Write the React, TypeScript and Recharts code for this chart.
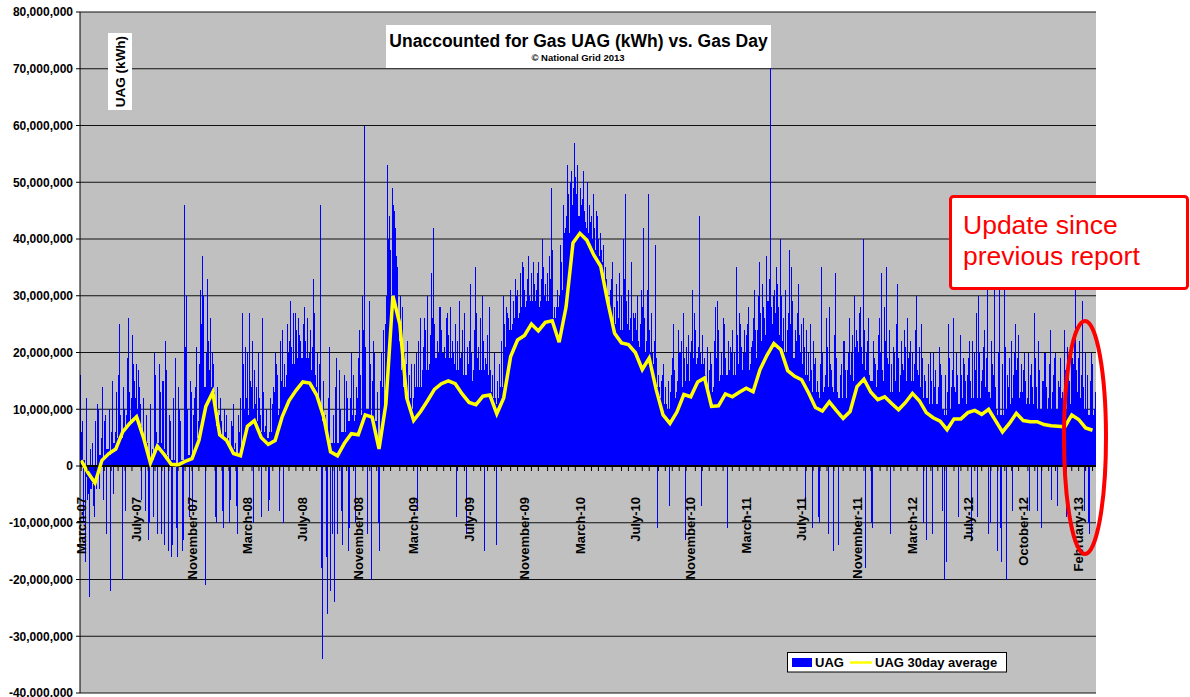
import React from 'react';
import { ComposedChart, Bar, Line, XAxis, YAxis, CartesianGrid, ReferenceLine } from 'recharts';

// ---------- data (millions of kWh), one 5-day bin per value, 24 bins between axis labels ----------
// solid level of the daily UAG columns in each bin
const solid2007 = [
  2, 1, -2, -3, -4, -3, -3, -2, 2, 3, 1, 3, 3, 2, 4, 4, 5, 6, 5, 7, 8, 8, 9, 9,
  10, 9, 7, 5, 3, 2, 1, 1, 3, 4, 5, 4, 3, 2, 1, 1, 1, 0, 0, 1, 1, 2, 2, 2,
  2, 3, 5, 7, 12, 14, 14, 15, 14, 12, 9, 7, 6, 5, 5, 4, 4, 3, 3, 2, 2, 3, 5, 6,
];
const solid2008 = [
  9, 10, 11, 10, 8, 7, 6, 6, 5, 5, 6, 7, 8, 9, 10, 12, 14, 15, 16, 17, 18, 18, 19, 19,
  19, 19, 19, 18, 17, 16, 14, 12, 10, 8, 6, 5, 4, 4, 4, 4, 5, 6, 6, 7, 8, 8, 8, 9,
  8, 9, 10, 11, 10, 10, 9, 8, 5, 4, 6, 9, 14, 22, 30, 33, 31, 27, 22, 17, 14, 12, 11, 10,
];
const solid2009 = [
  12, 13, 14, 14, 15, 16, 17, 18, 18, 19, 19, 19, 20, 20, 19, 19, 19, 18, 18, 17, 17, 16, 16, 16,
  16, 15, 15, 15, 16, 17, 17, 17, 16, 14, 13, 12, 11, 12, 14, 17, 21, 23, 24, 25, 26, 26, 27, 28,
  28, 29, 29, 29, 29, 29, 28, 29, 29, 30, 29, 29, 29, 26, 26, 28, 31, 34, 38, 41, 43, 44, 44, 44,
];
const solid2010 = [
  44, 44, 43, 42, 41, 40, 39, 38, 37, 36, 34, 31, 29, 27, 26, 25, 25, 25, 24, 24, 24, 24, 23, 22,
  23, 22, 21, 20, 20, 21, 21, 20, 18, 16, 14, 12, 11, 11, 10, 10, 11, 12, 13, 13, 14, 15, 15, 15,
  16, 17, 18, 19, 19, 18, 16, 14, 13, 13, 14, 15, 15, 16, 16, 16, 16, 15, 15, 16, 17, 17, 17, 17,
];
const solid2011 = [
  17, 17, 17, 18, 19, 20, 21, 22, 23, 24, 24, 25, 24, 24, 23, 22, 21, 20, 20, 19, 19, 19, 19, 18,
  18, 17, 16, 15, 14, 13, 13, 13, 12, 13, 13, 14, 14, 14, 13, 13, 12, 12, 12, 12, 13, 14, 15, 16,
  17, 17, 18, 18, 17, 16, 15, 15, 14, 15, 15, 15, 15, 14, 14, 13, 13, 13, 13, 13, 14, 15, 15, 15,
];
const solid2012 = [
  15, 15, 14, 14, 13, 12, 12, 11, 11, 11, 11, 10, 10, 10, 9, 9, 10, 11, 11, 11, 11, 11, 11, 11,
  12, 12, 12, 13, 12, 12, 12, 13, 13, 13, 12, 11, 10, 9, 9, 9, 10, 10, 11, 12, 12, 12, 12, 11,
  11, 11, 11, 11, 11, 11, 10, 10, 10, 10, 10, 10, 10, 10, 10, 10, 10, 10, 10, 10, 11, 12, 13, 13,
];
const solid2013 = [12, 11, 10, 10, 9, 9, 9, 9];

// extreme daily UAG values in each bin (the thin spikes, up or down) - first set
const peak2007 = [
  16, 8, -17, -6, -23, 4, -9, -4, 10, 5, -6, 9, 3, -22, 15, 6, 3, 25, -20, 10, 9, 26, 12, 18,
  12, 17, 11, 6, -8, 4, -10, 3, 20, 6, 18, -12, 15, 22, -15, 8, -14, 19, -16, 10, -15, 46, 30, -9,
  13, 9, 14, 8, 31, 37, -21, 33, 17, 20, 13, -10, 9, 8, -11, 6, 5, -6, 7, 4, -12, 6, 27, 10,
];
const peak2008 = [
  12, 27, 14, -10, 11, 20, 9, 26, 7, 5, -6, 11, 13, 18, -8, 15, -10, 16, 20, 29, 18, 27, 19, 23,
  18, 28, 16, 20, 17, 33, 12, 8, 46, -34, 9, -26, 21, -12, -24, 19, 17, -8, 6, 15, -15, 12, 9, -10,
  12, 24, 30, 60, 10, 29, -20, 22, 8, -10, 15, 14, 25, 53, 44, 49, 45, 37, 22, 17, 14, 18, 11, 12,
];
const peak2009 = [
  10, 14, -8, 13, 17, 26, 15, 18, 34, 42, 16, 20, 28, 17, 19, 27, 18, 22, 17, -9, 29, 20, 16, -12,
  18, 32, 17, 35, 19, 16, 30, -15, 18, 28, 9, 7, -14, 8, 12, 30, 20, 27, 22, 25, 24, 30, 26, 28,
  35, 28, 37, 27, 36, 28, 34, 29, 40, 30, 27, 37, 49, 15, 28, 19, 39, 46, 42, 53, 50, 46, 57, 48,
];
const peak2010 = [
  44, 46, 52, 42, 40, 43, 48, 38, 44, 41, 36, 18, 33, 28, 33, 19, 32, 26, 24, 40, 48, 25, 26, 5,
  26, 24, 20, 31, 42, 22, 48, 20, 14, 39, -11, 12, 16, 11, 9, -7, 16, 25, 12, 24, 20, 27, -13, 18,
  20, 31, 27, 18, 44, -7, 18, 15, 12, 20, 14, 28, 29, 16, 13, 25, -11, 17, 20, 16, 35, 18, 25, 20,
];
const peak2011 = [
  20, 25, 18, 22, 31, 24, 36, 22, 28, 37, 29, 72, 30, 27, 32, 40, 22, 19, 24, 38, 35, 18, 22, 32,
  20, 26, -7, 16, 25, -11, 18, 15, -10, 35, 14, 26, -12, 18, -15, 34, 13, 16, 12, 22, 17, 26, 20, 30,
  24, 20, 28, 40, -18, 22, 15, -11, 19, 17, 26, 34, 28, 35, 18, -12, 21, 15, 32, 16, 18, 24, 26, 20,
];
const peak2012 = [
  14, 18, 30, 16, 25, -10, 15, 12, 20, -12, 14, 11, 21, 16, -20, -17, 25, 14, 26, 13, 16, 23, 12, 18,
  16, 22, -13, 20, 27, 30, 15, 21, 14, 31, -10, 18, 32, -15, 33, -17, 32, -20, 14, 22, 16, 25, 19, 13,
  13, 20, 12, -8, 18, 27, 14, 22, -11, 15, 20, 12, 24, 13, 19, -7, 14, 12, 24, -9, 16, 20, 18, 31,
];
const peak2013 = [19, 12, 29, -8, 16, -12, 20, 10];

// second set of daily spikes in each bin
const spike2007 = [
  6, -10, 12, -5, 3, -7, 8, 11, -4, 14, 8, -12, 10, 6, -5, 13, 16, 9, 14, -8, 19, 13, 23, 15,
  18, 14, -6, 12, 9, -13, 11, -9, 16, -12, 13, 15, -14, 17, 9, -16, 12, -11, 14, 8, -13, 21, 10, 15,
  -8, 12, 21, 18, 25, 30, 20, 22, 26, 18, -9, 14, 12, -8, 10, 9, -10, 8, 11, -7, 9, 12, 18, 21,
];
const spike2008 = [
  20, 15, 22, 17, 14, 12, -9, 13, 10, -8, 12, 14, 20, 16, 22, 24, 18, 25, 22, 21, 27, 24, 26, 22,
  25, 22, 26, 24, 21, 27, 20, 18, -18, 15, -16, 12, -22, 9, 14, -12, 10, -14, 16, 12, -11, 20, 16, 14,
  19, 16, 24, 21, -12, 18, 15, 20, 13, -15, 20, 24, 30, 40, 38, 46, 42, 35, 30, 28, 20, 22, 16, 18,
];
const spike2009 = [
  18, 20, 22, 26, 21, 24, 30, 23, 26, 25, 22, 28, 24, 21, 26, 23, 28, 20, 25, 22, 19, 24, 27, 21,
  22, 20, 24, 27, 21, 26, 22, 19, 23, 17, 16, 20, 15, 18, 22, 25, 28, 26, 31, 29, 33, 31, 34, 36,
  31, 33, 30, 34, 32, 31, 36, 33, 35, 32, 34, 33, 38, 28, 31, 30, 36, 41, 44, 48, 52, 49, 51, 53,
];
const spike2010 = [
  49, 47, 45, 50, 46, 44, 42, 45, 40, 38, 39, 35, 30, 31, 36, 28, 29, 34, 30, 33, 29, 31, 36, 27,
  27, 30, 25, 28, 26, 31, 24, 27, 22, 19, 16, 15, 18, 14, 15, 13, 19, 17, 15, 20, 22, 19, 21, 23,
  22, 19, 24, 21, 20, 23, 19, 21, 17, 18, 22, 19, 24, 20, 26, 19, 22, 21, 24, 20, 23, 27, 21, 24,
];
const spike2011 = [
  23, 28, 21, 26, 24, 30, 27, 32, 26, 29, 33, 28, 31, 35, 28, 30, 26, 31, 27, 25, 29, 24, 27, 23,
  25, 21, 24, 20, 17, 22, 19, -9, 18, 20, 16, 21, 28, 17, 23, 19, -14, 18, 22, 17, 20, 16, 23, 21,
  22, 27, 21, 24, 20, 26, -10, 22, 18, 23, 20, 17, 22, 19, 24, 18, 20, 25, 19, 22, 17, 21, 19, 22,
];
const spike2012 = [
  20, 24, 17, 21, 19, 16, -13, 18, 15, 20, 17, 14, 18, -8, 16, 13, 19, 17, 14, 20, -9, 16, 19, 15,
  19, 15, 22, 17, -9, 20, 17, 24, 19, -12, 22, 16, 14, 20, -11, 18, 21, 16, 19, -8, 20, 17, 23, 18,
  17, 15, 20, 16, 14, 19, -8, 17, 15, 20, 14, 18, -6, 16, 20, 15, 19, 13, 17, 21, 15, 19, 22, 17,
];
const spike2013 = [22, 16, 14, 20, -10, 15, 18, 13];

// 30-day average, one value per 15 days (every third bin)
const avg2007 = [
  1.0, -1.2, -3.0, 1.0, 2.2, 3.0, 6.0, 7.5,
  8.7, 5.0, 0.5, 3.5, 2.0, 0.3, 0.2, 0.8,
  1.3, 4.5, 10.5, 13, 5.5, 4.5, 2.2, 1.8,
];
const avg2008 = [
  7.0, 8.0, 5.0, 3.8, 4.5, 8.6, 11.5, 13.3,
  14.8, 14.6, 12.5, 8.7, 2.5, 1.8, 4.0, 5.7,
  5.5, 9.0, 8.6, 3.0, 11.0, 30.0, 25.0, 12.0,
];
const avg2009 = [
  8.0, 9.6, 11.5, 13.5, 14.5, 15.0, 14.5, 12.7,
  11.2, 10.8, 12.3, 12.5, 9.2, 12.0, 19.3, 22.2,
  23, 25, 23.8, 25.3, 25.6, 21.8, 28, 39.3,
];
const avg2010 = [
  41.0, 39.8, 37.2, 35.2, 29.0, 23.4, 21.7, 21.4,
  20, 17, 19, 13.5, 9, 7.5, 9.5, 12.6,
  12.2, 14.8, 15.5, 10.5, 10.6, 12.7, 12.2, 13.0,
];
const avg2011 = [
  13.7, 13.1, 17.0, 19.5, 21.6, 20.5, 16.8, 15.8,
  15.2, 12.9, 10.3, 9.7, 11.3, 9.8, 8.4, 9.6,
  14.0, 15.3, 13.0, 11.7, 12.2, 11.0, 9.9, 11.2,
];
const avg2012 = [
  12.8, 11.5, 9.4, 8.5, 7.9, 6.4, 8.3, 8.3,
  9.4, 9.8, 9.1, 10.0, 8.0, 6.0, 7.5, 9.3,
  8.0, 7.8, 7.8, 7.3, 7.1, 7.0, 6.9, 9.0,
];
const avg2013 = [8.2, 6.7, 6.3];

const tickLabels = [
  'March-07', 'July-07', 'November-07', 'March-08', 'July-08', 'November-08',
  'March-09', 'July-09', 'November-09', 'March-10', 'July-10', 'November-10',
  'March-11', 'July-11', 'November-11', 'March-12', 'July-12', 'October-12', 'February-13',
];
const yTicks = [-40, -30, -20, -10, 0, 10, 20, 30, 40, 50, 60, 70, 80].map((v) => v * 1e6);

const SERIES_BAR = 'UAG';
const SERIES_LINE = 'UAG 30day average';

// ---------- layout ----------
const W = 1190;
const H = 697;
const MARGIN = { top: 12, right: 94, bottom: 0, left: 0 };
const Y_AXIS_W = 80;
const X_AXIS_H = 4;
const Y_MIN = -40e6;
const Y_MAX = 80e6;
const BIN_DAYS = 5;
const LABEL_EVERY = 24;
const MARK_DAYS = 16;
const FONT = '"Liberation Sans", Arial, Helvetica, sans-serif';

const solidAll = [...solid2007, ...solid2008, ...solid2009, ...solid2010, ...solid2011, ...solid2012, ...solid2013];
const peakAll = [...peak2007, ...peak2008, ...peak2009, ...peak2010, ...peak2011, ...peak2012, ...peak2013];
const spikeAll = [...spike2007, ...spike2008, ...spike2009, ...spike2010, ...spike2011, ...spike2012, ...spike2013];
const avgAll = [...avg2007, ...avg2008, ...avg2009, ...avg2010, ...avg2011, ...avg2012, ...avg2013];
const N = solidAll.length;

const data = solidAll.map((v, i) => ({
  i,
  uag: v * 1e6,
  peak: peakAll[i] * 1e6,
  spike: spikeAll[i] * 1e6,
  avg: i % 3 === 0 && avgAll[i / 3] !== undefined ? avgAll[i / 3] * 1e6 : null,
}));

const labelMap: Record<number, string> = {};
tickLabels.forEach((t, k) => {
  labelMap[k * LABEL_EVERY] = t;
});
const markSet = new Set<number>();
for (let k = 0; Math.round((k * MARK_DAYS) / BIN_DAYS) < N; k++) {
  markSet.add(Math.round((k * MARK_DAYS) / BIN_DAYS));
}
const xTicks = Array.from(new Set([...Object.keys(labelMap).map(Number), ...markSet])).sort((a, b) => a - b);

const PLOT_W = W - MARGIN.left - MARGIN.right - Y_AXIS_W;
const PLOT_H = H - MARGIN.top - MARGIN.bottom - X_AXIS_H;
const ZERO_FROM_BOTTOM = (PLOT_H * (0 - Y_MIN)) / (Y_MAX - Y_MIN);
const BAR_SIZE = PLOT_W / N - 0.003;

function XTick(props: any) {
  const { x, y, payload } = props;
  const idx = payload.value as number;
  const zy = y - ZERO_FROM_BOTTOM;
  const label = labelMap[idx];
  const ly = zy + 31;
  return (
    <g>
      {markSet.has(idx) && <line x1={x} x2={x} y1={zy} y2={zy + 5} stroke="#000" strokeWidth={1} />}
      {label && (
        <text
          x={x}
          y={ly}
          transform={`rotate(-90 ${x} ${ly})`}
          textAnchor="end"
          dy="0.36em"
          fontSize={13}
          fontWeight="bold"
          fontFamily={FONT}
          fill="#000"
        >
          {label}
        </text>
      )}
    </g>
  );
}

export default function App() {
  return (
    <div style={{ position: 'absolute', left: 0, top: 0, width: W, height: H, background: '#fff', fontFamily: FONT }}>
      <style>{`.recharts-bar-rectangle path{shape-rendering:crispEdges}`}</style>
      <ComposedChart
        width={W}
        height={H}
        data={data}
        margin={MARGIN}
        barCategoryGap={0}
        barGap={0}
      >
        <CartesianGrid vertical={false} stroke="#111" fill="#C0C0C0" />
        <XAxis
          dataKey="i"
          type="category"
          height={X_AXIS_H}
          ticks={xTicks}
          interval={0}
          tick={<XTick />}
          tickLine={false}
          tickSize={0}
          tickMargin={0}
          axisLine={false}
        />
        <XAxis xAxisId="spikes" dataKey="i" type="category" hide />
        <YAxis
          domain={[Y_MIN, Y_MAX]}
          ticks={yTicks}
          interval={0}
          allowDataOverflow
          width={Y_AXIS_W}
          tickSize={4}
          tickMargin={3}
          axisLine={{ stroke: '#000' }}
          tickLine={{ stroke: '#000' }}
          tick={{ fontSize: 12, fontWeight: 'bold', fill: '#000', fontFamily: FONT }}
          tickFormatter={(v: number) => v.toLocaleString('en-US')}
        />
        <Bar dataKey="uag" name={SERIES_BAR} fill="#0000FF" barSize={BAR_SIZE} isAnimationActive={false} />
        <Bar xAxisId="spikes" dataKey="peak" name={SERIES_BAR} fill="#0000FF" barSize={1} isAnimationActive={false} />
        <Bar xAxisId="spikes" dataKey="spike" name={SERIES_BAR} fill="#0000FF" barSize={1} isAnimationActive={false} />
        <ReferenceLine y={0} stroke="#000" strokeWidth={2} />
        <Line
          dataKey="avg"
          name={SERIES_LINE}
          stroke="#FFFF00"
          strokeWidth={3.5}
          dot={false}
          connectNulls
          type="linear"
          isAnimationActive={false}
        />
      </ComposedChart>
      <svg
        width={W}
        height={H}
        style={{ position: 'absolute', left: 0, top: 0, pointerEvents: 'none' }}
        fontFamily={FONT}
      >
        <rect x={386} y={25} width={385} height={43} fill="#fff" />
        <text x={578.5} y={46.5} textAnchor="middle" fontSize={17.5} fontWeight="bold" fill="#000">
          Unaccounted for Gas UAG (kWh) vs. Gas Day
        </text>
        <text x={578} y={60.5} textAnchor="middle" fontSize={9.5} fontWeight="bold" fill="#000">
          © National Grid 2013
        </text>

        <rect x={108} y={33} width={24} height={77} fill="#fff" />
        <text
          x={120}
          y={71.5}
          transform="rotate(-90 120 71.5)"
          textAnchor="middle"
          dy="0.36em"
          fontSize={13.5}
          fontWeight="bold"
          fill="#000"
        >
          UAG (kWh)
        </text>

        <rect x={787.5} y={652.5} width={219} height={19.5} fill="#fff" stroke="#000" strokeWidth={1} />
        <rect x={792} y={658} width={20} height={9} fill="#0000FF" />
        <text x={815} y={667} fontSize={13} fontWeight="bold" fill="#000">
          {SERIES_BAR}
        </text>
        <line x1={850} x2={872} y1={662.5} y2={662.5} stroke="#FFFF00" strokeWidth={2.5} />
        <text x={875} y={667} fontSize={13} fontWeight="bold" fill="#000">
          {SERIES_LINE}
        </text>

        <rect x={950.5} y={196.5} width={237} height={92} rx={3} fill="#fff" stroke="#FF0000" strokeWidth={3} />
        <text x={963} y={234} fontSize={26.5} fill="#FF0000">
          Update since
        </text>
        <text x={963} y={265} fontSize={26.5} fill="#FF0000">
          previous report
        </text>
        <ellipse cx={1085} cy={437.5} rx={21} ry={116.5} fill="none" stroke="#FF0000" strokeWidth={4} />
      </svg>
    </div>
  );
}
